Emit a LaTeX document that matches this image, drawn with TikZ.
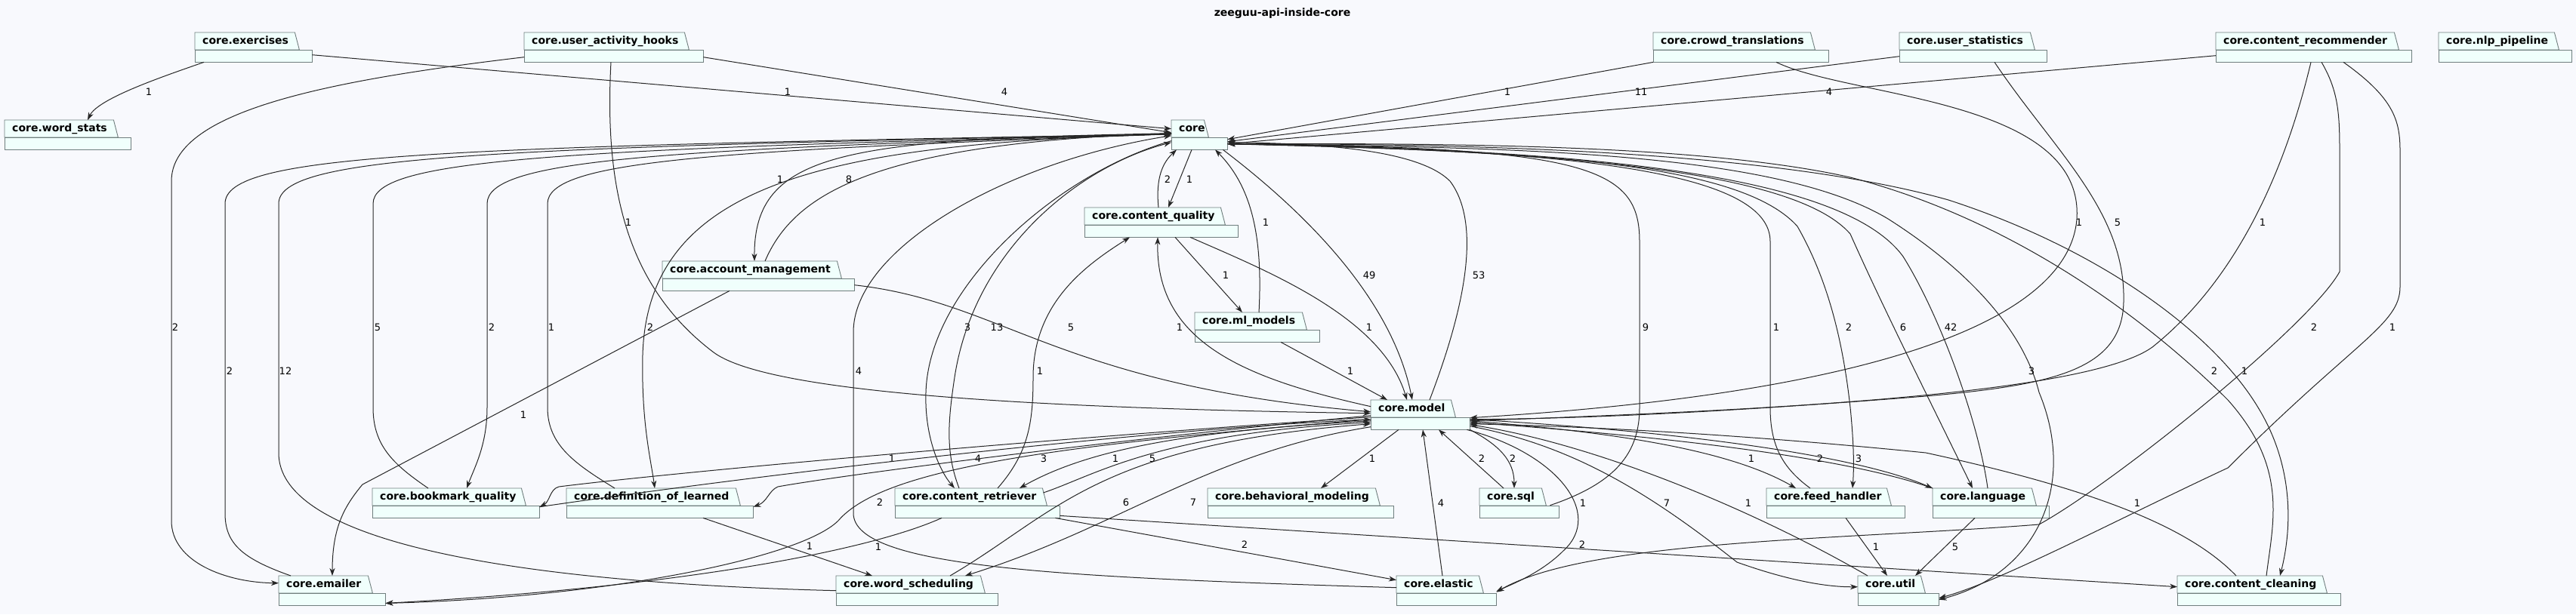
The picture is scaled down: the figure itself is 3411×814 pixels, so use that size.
\documentclass[tikz,border=0pt]{standalone}
\usepackage{fontspec}
\setmainfont{DejaVu Sans}
\usetikzlibrary{arrows.meta,backgrounds}

\definecolor{bgcol}{RGB}{248,249,253}
\definecolor{pkgfill}{RGB}{240,255,252}
\definecolor{pkgline}{RGB}{112,126,126}
\definecolor{linecol}{RGB}{38,38,38}

\newcommand\pkgfont{\fontsize{14}{16}\selectfont\bfseries}
\newcommand\lblfont{\fontsize{13}{15}\selectfont}

% tab + body of a package, drawn behind the named node
\newcommand\pkgshape[2]{%
  \filldraw[pkgframe] (#1.north west) -- ([xshift=-#2-6]#1.north east)
    -- ([xshift=-#2,yshift=-23]#1.north east) -- ([yshift=-23]#1.north west) -- cycle;
  \filldraw[pkgframe] ([yshift=-23]#1.north west) rectangle (#1.south east);
}

\tikzset{
  pkg/.style={anchor=north west, inner xsep=10pt, inner ysep=4pt, text width=#1,
    text height=11pt, text depth=20pt, align=left, font=\pkgfont},
  pkgframe/.style={draw=pkgline, fill=pkgfill, line width=0.9pt},
  dep/.style={draw=linecol, line width=1pt, -{Stealth[length=10pt,width=7pt,inset=3pt]}},
  lbl/.style={font=\lblfont, inner sep=0pt},
}

\begin{document}
\begin{tikzpicture}[x=1pt, y=-1pt]
\useasboundingbox (0,0) rectangle (3411,814);

% Title
\node[font=\pkgfont] (title) at (1698,18) {zeeguu-api-inside-core};

% Top row
\node[pkg=135pt] (exercises) at (258,43) {core.exercises};
\node[pkg=217pt] (hooks) at (694,43) {core.user\_activity\_hooks};
\node[pkg=212pt] (crowd) at (2189,43) {core.crowd\_translations};
\node[pkg=175pt] (userstats) at (2515,43) {core.user\_statistics};
\node[pkg=239pt] (recommender) at (2934,43) {core.content\_recommender};
\node[pkg=156pt] (nlp) at (3229,43) {core.nlp\_pipeline};

% Core and the middle
\node[pkg=147pt] (wordstats) at (6,159) {core.word\_stats};
\node[pkg=54pt] (core) at (1551,159) {core};
\node[pkg=183pt] (quality) at (1436,275) {core.content\_quality};
\node[pkg=234pt] (account) at (877,346) {core.account\_management};
\node[pkg=145pt] (mlmodels) at (1582,414) {core.ml\_models};
\node[pkg=111pt] (model) at (1815,530) {core.model};

% Lower rows
\node[pkg=201pt] (bookmark) at (493,647) {core.bookmark\_quality};
\node[pkg=227pt] (learned) at (750,647) {core.definition\_of\_learned};
\node[pkg=198pt] (retriever) at (1185,647) {core.content\_retriever};
\node[pkg=226pt] (behavioral) at (1599,647) {core.behavioral\_modeling};
\node[pkg=85pt] (sql) at (1959,647) {core.sql};
\node[pkg=163pt] (feed) at (2339,647) {core.feed\_handler};
\node[pkg=134pt] (language) at (2559,647) {core.language};
\node[pkg=121pt] (emailer) at (369,763) {core.emailer};
\node[pkg=194pt] (scheduling) at (1107,763) {core.word\_scheduling};
\node[pkg=112pt] (elastic) at (1849,763) {core.elastic};
\node[pkg=87pt] (util) at (2460,763) {core.util};
\node[pkg=196pt] (cleaning) at (2883,763) {core.content\_cleaning};

\begin{scope}[on background layer]
  \fill[bgcol] (0,0) rectangle (3411,814);
  \foreach \n/\g in {exercises/17, hooks/19, crowd/18, userstats/16, recommender/17,
      nlp/17, wordstats/17, core/25, quality/17, account/17, mlmodels/17, model/19,
      bookmark/18, learned/17, retriever/17, behavioral/18, sql/17, feed/18,
      language/17, emailer/17, scheduling/17, elastic/17, util/18, cleaning/18}
    {\pkgshape{\n}{\g}}
\end{scope}

% Top row dependencies
\draw[dep] ([xshift=12]exercises.south west) .. controls (220,100) and (130,130) .. ([xshift=110]wordstats.north west) node[lbl] at (197,122) {1};
\draw[dep] ([yshift=-10]exercises.east) -- ([yshift=8]core.west) node[lbl] at (1043,122) {1};
\draw[dep] ([yshift=-13]hooks.east) -- ([yshift=3]core.west) node[lbl] at (1330,122) {4};
\draw[dep] (crowd.south west) -- ([yshift=-6]core.east) node[lbl] at (1996,122) {1};
\draw[dep] ([yshift=-12]userstats.west) -- ([yshift=-9]core.east) node[lbl] at (2173,122) {11};
\draw[dep] ([yshift=-11]recommender.west) -- ([yshift=-12]core.east) node[lbl] at (2422,122) {4};
\draw[dep] ([yshift=-13]hooks.west) .. controls (420,108) and (227,150) .. (227,240) -- (227,690) .. controls (227,745) and (300,772) .. ([yshift=10]emailer.west) node[lbl] at (232,434) {2};
\draw[dep] ([xshift=115]hooks.south west) .. controls (800,250) and (830,380) .. (945,467) .. controls (1010,515) and (1300,540) .. ([yshift=2]model.west) node[lbl] at (832,295) {1};

% Account management
\draw[dep] ([xshift=136]account.north west) .. controls (1050,260) and (1150,190) .. ([yshift=2]core.west) node[lbl] at (1124,238) {8};
\draw[dep] ([yshift=2]core.west) .. controls (1120,185) and (998,200) .. ([xshift=122]account.north west) node[lbl] at (1033,238) {1};
\draw[dep] ([yshift=-12]account.east) .. controls (1330,400) and (1400,510) .. ([yshift=4]model.west) node[lbl] at (1418,434) {5};
\draw[dep] ([xshift=89]account.south west) -- (480,642) .. controls (455,672) and (440,700) .. ([xshift=71]emailer.north west) node[lbl] at (693,550) {1};

% Left bundle into core
\draw[dep] ([xshift=16]emailer.north west) .. controls (320,740) and (298,720) .. (298,680) -- (298,270) .. controls (298,205) and (560,195) .. ([yshift=1]core.west) node[lbl] at (304,492) {2};
\draw[dep] (scheduling.west) .. controls (800,775) and (369,740) .. (369,600) -- (369,270) .. controls (369,208) and (620,196) .. ([yshift=1]core.west) node[lbl] at (378,492) {12};
\draw[dep] ([xshift=74]bookmark.north west) .. controls (520,615) and (494,590) .. (494,540) -- (494,270) .. controls (494,212) and (720,198) .. ([yshift=1]core.west) node[lbl] at (500,434) {5};
\draw[dep] ([yshift=1]core.west) .. controls (860,198) and (645,212) .. (645,270) -- (645,540) .. controls (645,590) and (628,620) .. ([xshift=125]bookmark.north west) node[lbl] at (651,434) {2};
\draw[dep] ([xshift=64]learned.north west) .. controls (762,615) and (725,590) .. (725,540) -- (725,270) .. controls (725,214) and (930,200) .. ([yshift=1]core.west) node[lbl] at (730,434) {1};
\draw[dep] ([yshift=1]core.west) .. controls (1100,190) and (858,240) .. (851,470) .. controls (849,560) and (862,610) .. ([xshift=117]learned.north west) node[lbl] at (861,434) {2};
\draw[dep] ([yshift=4]elastic.west) .. controls (1400,765) and (1130,752) .. (1130,680) -- (1130,440) .. controls (1130,330) and (1330,215) .. ([yshift=-1]core.west) node[lbl] at (1137,492) {4};
\draw[dep] ([yshift=-8]core.west) .. controls (1400,230) and (1230,380) .. (1226,520) .. controls (1224,580) and (1245,625) .. ([xshift=79]retriever.north west) node[lbl] at (1281,434) {3};
\draw[dep] ([xshift=85]retriever.north west) .. controls (1252,600) and (1255,560) .. (1264,500) .. controls (1290,330) and (1430,220) .. ([yshift=-10]core.west) node[lbl] at (1320,434) {13};
\draw[dep] ([xshift=136]retriever.north west) .. controls (1362,600) and (1368,560) .. (1368,500) .. controls (1368,400) and (1440,350) .. ([xshift=60]quality.south west) node[lbl] at (1377,492) {1};

% Content quality and ml models
\draw[dep] ([xshift=98]quality.north west) .. controls (1530,235) and (1540,215) .. ([xshift=7]core.south west) node[lbl] at (1546,238) {2};
\draw[dep] ([xshift=27]core.south west) -- ([xshift=111]quality.north west) node[lbl] at (1575,238) {1};
\draw[dep] ([xshift=120]quality.south west) -- ([xshift=63]mlmodels.north west) node[lbl] at (1623,365) {1};
\draw[dep] ([xshift=140]quality.south west) .. controls (1680,360) and (1830,420) .. ([xshift=48]model.north west) node[lbl] at (1813,434) {1};
\draw[dep] ([xshift=114]mlmodels.south west) -- ([xshift=22]model.north west) node[lbl] at (1788,492) {1};
\draw[dep] ([xshift=85]mlmodels.north west) .. controls (1672,320) and (1660,250) .. ([xshift=58]core.south west) node[lbl] at (1676,295) {1};
\draw[dep] ([yshift=11]model.west) .. controls (1640,500) and (1530,450) .. ([xshift=97]quality.south west) node[lbl] at (1562,434) {1};

% Core <-> model
\draw[dep] ([xshift=-6]core.south east) .. controls (1700,260) and (1840,380) .. ([xshift=55]model.north west) node[lbl] at (1813,365) {49};
\draw[dep] ([xshift=78]model.north west) .. controls (1935,420) and (1965,300) .. (1920,240) .. controls (1880,200) and (1760,190) .. ([yshift=-10]core.east) node[lbl] at (1958,365) {53};

% Model, lower left
\draw[dep] ([yshift=-3]model.west) .. controls (1400,580) and (900,625) .. (740,645) .. controls (728,648) and (728,665) .. ([yshift=-5]bookmark.east) node[lbl] at (1181,608) {1};
\draw[dep] ([yshift=-5]bookmark.east) .. controls (1000,630) and (1500,570) .. ([yshift=-6]model.west) node[lbl] at (1295,608) {4};
\draw[dep] ([yshift=-1]model.west) .. controls (1450,585) and (1100,632) .. (1030,645) .. controls (1018,650) and (1016,665) .. ([yshift=-5]learned.east) node[lbl] at (1382,608) {3};
\draw[dep] ([yshift=-8]model.west) .. controls (1600,570) and (1450,590) .. ([xshift=165]retriever.north west) node[lbl] at (1477,608) {1};
\draw[dep] ([xshift=-22,yshift=-6]retriever.north east) .. controls (1450,630) and (1530,575) .. ([yshift=-10]model.west) node[lbl] at (1526,608) {5};
\draw[dep] ([xshift=151]scheduling.north west) .. controls (1400,680) and (1450,590) .. ([yshift=-12]model.west) node[lbl] at (1491,666) {6};
\draw[dep] ([yshift=-16]model.west) .. controls (1600,600) and (1480,700) .. ([xshift=171]scheduling.north west) node[lbl] at (1580,666) {7};
\draw[dep] ([yshift=-6]model.west) .. controls (1400,590) and (1170,620) .. (1110,690) .. controls (1060,740) and (800,792) .. ([yshift=3]emailer.south east) node[lbl] at (1165,666) {2};
\draw[dep] ([xshift=62]retriever.south west) .. controls (1150,730) and (900,778) .. ([yshift=3]emailer.south east) node[lbl] at (1163,725) {1};
\draw[dep] ([xshift=181]learned.south west) -- ([xshift=48]scheduling.north west) node[lbl] at (1072,724) {1};
\draw[dep] ([xshift=37]model.south west) -- ([xshift=150]behavioral.north west) node[lbl] at (1817,608) {1};
\draw[dep] ([xshift=61]elastic.north west) -- ([xshift=69]model.south west) node[lbl] at (1908,667) {4};
\draw[dep] ([xshift=-6]retriever.south east) -- ([yshift=14]elastic.west) node[lbl] at (1648,722) {2};
\draw[dep] ([yshift=3]retriever.south east) -- ([yshift=5]cleaning.west) node[lbl] at (2095,722) {2};

% Model, right side
\draw[dep] ([xshift=32]sql.north west) -- ([xshift=90]model.south west) node[lbl] at (1962,608) {2};
\draw[dep] (model.south east) .. controls (1985,590) and (2005,610) .. ([xshift=46]sql.north west) node[lbl] at (2003,608) {2};
\draw[dep] ([xshift=-12,yshift=-3]sql.east) .. controls (2140,640) and (2171,600) .. (2171,540) -- (2171,320) .. controls (2171,220) and (2100,195) .. ([yshift=-12]core.east) node[lbl] at (2179,434) {9};
\draw[dep] ([xshift=163]crowd.south west) .. controls (2450,130) and (2760,130) .. (2750,290) .. controls (2740,420) and (2500,520) .. ([yshift=-4]model.east) node[lbl] at (2753,295) {1};
\draw[dep] ([xshift=126]userstats.south west) .. controls (2720,200) and (2815,280) .. (2812,400) .. controls (2810,490) and (2720,510) .. (2550,525) .. controls (2300,545) and (2100,555) .. ([yshift=-6]model.east) node[lbl] at (2804,295) {5};
\draw[dep] ([xshift=126]recommender.south west) .. controls (3020,250) and (2950,380) .. (2850,460) .. controls (2760,525) and (2300,545) .. ([yshift=-8]model.east) node[lbl] at (2996,295) {1};
\draw[dep] ([xshift=140]recommender.south west) .. controls (3096,120) and (3098,150) .. (3098,200) -- (3098,360) .. controls (3060,430) and (2800,640) .. (2700,695) .. controls (2450,715) and (2100,715) .. ([yshift=-2]elastic.east) node[lbl] at (3064,434) {2};
\draw[dep] ([xshift=169]recommender.south west) .. controls (3170,130) and (3178,160) .. (3178,200) -- (3178,380) .. controls (3178,430) and (3120,450) .. (2950,620) .. controls (2800,690) and (2650,770) .. ([yshift=-10]util.east) node[lbl] at (3168,434) {1};
\draw[dep] ([yshift=-12]core.east) .. controls (2000,195) and (2350,200) .. (2500,290) .. controls (2610,360) and (2680,440) .. (2700,520) .. controls (2750,640) and (2700,760) .. ([yshift=-12]util.east) node[lbl] at (2690,492) {3};
\draw[dep] ([yshift=-12]core.east) .. controls (2000,200) and (2300,210) .. (2380,300) .. controls (2420,370) and (2440,450) .. (2450,540) .. controls (2455,590) and (2455,620) .. ([xshift=114]feed.north west) node[lbl] at (2448,434) {2};
\draw[dep] ([xshift=58]feed.north west) .. controls (2360,620) and (2344,590) .. (2344,540) -- (2344,320) .. controls (2344,230) and (2100,198) .. ([yshift=-12]core.east) node[lbl] at (2352,434) {1};
\draw[dep] ([yshift=-8]model.east) .. controls (2100,570) and (2280,590) .. ([xshift=39]feed.north west) node[lbl] at (2319,608) {1};
\draw[dep] ([yshift=-6]model.east) .. controls (2200,570) and (2450,600) .. (language.north west) node[lbl] at (2410,608) {2};
\draw[dep] (language.north west) .. controls (2440,605) and (2200,578) .. ([yshift=-10]model.east) node[lbl] at (2461,608) {3};
\draw[dep] ([yshift=-12]core.east) .. controls (2100,200) and (2380,230) .. (2450,310) .. controls (2490,400) and (2540,500) .. ([xshift=53]language.north west) node[lbl] at (2520,434) {6};
\draw[dep] ([xshift=73]language.north west) .. controls (2620,560) and (2570,420) .. (2520,340) .. controls (2440,230) and (2100,198) .. ([yshift=-12]core.east) node[lbl] at (2583,434) {42};
\draw[dep] ([xshift=118]cleaning.north west) .. controls (3010,690) and (3030,620) .. (2950,530) .. controls (2880,460) and (2700,300) .. (2450,235) .. controls (2250,190) and (1900,190) .. ([yshift=-12]core.east) node[lbl] at (2932,492) {2};
\draw[dep] ([yshift=-12]core.east) .. controls (1950,190) and (2350,200) .. (2580,265) .. controls (2780,330) and (2930,440) .. (2990,540) .. controls (3045,630) and (3030,720) .. ([xshift=136]cleaning.north west) node[lbl] at (2972,492) {1};
\draw[dep] ([xshift=78]cleaning.north west) .. controls (2900,700) and (2780,650) .. (2550,600) .. controls (2300,575) and (2100,565) .. ([yshift=-12]model.east) node[lbl] at (2830,667) {1};
\draw[dep] ([xshift=13]util.north west) .. controls (2330,680) and (2120,590) .. ([yshift=-13]model.east) node[lbl] at (2315,667) {1};
\draw[dep] ([yshift=-15]model.east) .. controls (2080,590) and (2180,650) .. (2300,745) .. controls (2370,770) and (2420,778) .. ([yshift=5]util.west) node[lbl] at (2207,667) {7};
\draw[dep] ([xshift=-4]model.south east) .. controls (2060,600) and (2125,680) .. (2070,730) .. controls (2040,760) and (2000,775) .. ([yshift=-1]elastic.east) node[lbl] at (2096,667) {1};
\draw[dep] ([xshift=105]feed.south west) -- ([xshift=39]util.north west) node[lbl] at (2484,725) {1};
\draw[dep] ([xshift=56]language.south west) -- ([xshift=76]util.north west) node[lbl] at (2589,725) {5};

\end{tikzpicture}
\end{document}
